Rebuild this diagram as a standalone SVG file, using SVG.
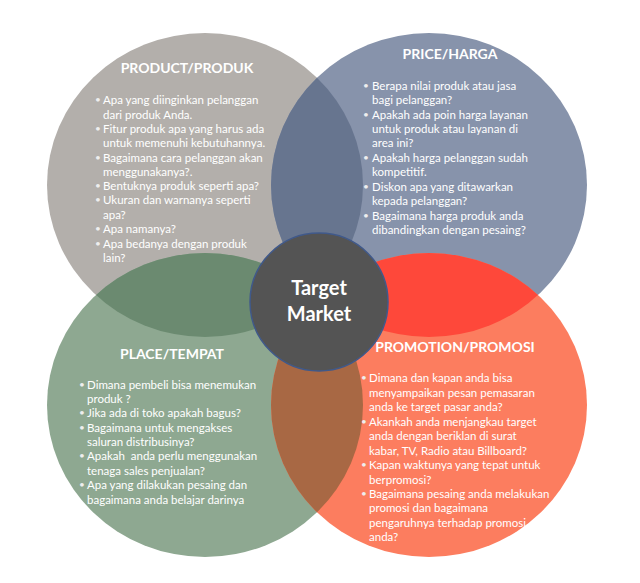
<svg xmlns="http://www.w3.org/2000/svg" width="640" height="583" viewBox="0 0 640 583">
<style>
.t{font-family:Lato,"Open Sans","Liberation Sans",sans-serif;font-size:11.5px;fill:#ffffff}
.b{font-family:Lato,"Open Sans","Liberation Sans",sans-serif;font-size:10px;fill:#eeeeee}
.h{font-family:Lato,"Open Sans","Liberation Sans",sans-serif;font-size:14px;font-weight:bold;fill:#ffffff;text-anchor:middle}
.c{font-family:Lato,"Open Sans","Liberation Sans",sans-serif;font-size:20px;font-weight:bold;fill:#ffffff;text-anchor:middle}
</style>
<defs>
<clipPath id="cpProduct"><ellipse cx="205" cy="185" rx="158" ry="152"/></clipPath>
<clipPath id="cpPromotion"><ellipse cx="429" cy="405" rx="158" ry="152"/></clipPath>
</defs>
<rect width="640" height="583" fill="#ffffff"/>
<g id="circles">
<ellipse id="product-circle" cx="205" cy="185" rx="158" ry="152" fill="#b3afab"/>
<ellipse id="price-circle" cx="429" cy="185" rx="158" ry="152" fill="#8793ab"/>
<ellipse id="place-circle" cx="205" cy="405" rx="158" ry="152" fill="#8ea891"/>
<ellipse id="promotion-circle" cx="429" cy="405" rx="158" ry="152" fill="#fc7d5f"/>
</g>
<g id="overlaps">
<ellipse cx="429" cy="185" rx="158" ry="152" fill="#67758f" clip-path="url(#cpProduct)"/>
<ellipse cx="205" cy="405" rx="158" ry="152" fill="#6b8a70" clip-path="url(#cpProduct)"/>
<ellipse cx="429" cy="185" rx="158" ry="152" fill="#fe483a" clip-path="url(#cpPromotion)"/>
<ellipse cx="205" cy="405" rx="158" ry="152" fill="#a86844" clip-path="url(#cpPromotion)"/>
</g>
<g id="connectors"/>
<g id="product">
<text class="h" x="187" y="73">PRODUCT/PRODUK</text>
<g class="b">
<text x="95" y="103">•</text><text x="95" y="132">•</text><text x="95" y="161">•</text><text x="95" y="189">•</text><text x="95" y="203">•</text><text x="95" y="232">•</text><text x="95" y="247">•</text>
</g>
<g class="t">
<text x="103" y="104">Apa yang diinginkan pelanggan</text>
<text x="103" y="119">dari produk Anda.</text>
<text x="103" y="133">Fitur produk apa yang harus ada</text>
<text x="103" y="147">untuk memenuhi kebutuhannya.</text>
<text x="103" y="162">Bagaimana cara pelanggan akan</text>
<text x="103" y="176">menggunakanya?.</text>
<text x="103" y="190">Bentuknya produk seperti apa?</text>
<text x="103" y="204">Ukuran dan warnanya seperti</text>
<text x="103" y="219">apa?</text>
<text x="103" y="233">Apa namanya?</text>
<text x="103" y="248">Apa bedanya dengan produk</text>
<text x="103" y="262">lain?</text>
</g>
</g>
<g id="price">
<text class="h" x="450" y="59">PRICE/HARGA</text>
<g class="b">
<text x="363" y="89">•</text><text x="363" y="118">•</text><text x="363" y="161">•</text><text x="363" y="190">•</text><text x="363" y="219">•</text>
</g>
<g class="t">
<text x="372" y="90">Berapa nilai produk atau jasa</text>
<text x="372" y="104">bagi pelanggan?</text>
<text x="372" y="119">Apakah ada poin harga layanan</text>
<text x="372" y="133">untuk produk atau layanan di</text>
<text x="372" y="147">area ini?</text>
<text x="372" y="162">Apakah harga pelanggan sudah</text>
<text x="372" y="176">kompetitif.</text>
<text x="372" y="191">Diskon apa yang ditawarkan</text>
<text x="372" y="205">kepada pelanggan?</text>
<text x="372" y="220">Bagaimana harga produk anda</text>
<text x="372" y="234">dibandingkan dengan pesaing?</text>
</g>
</g>
<g id="place">
<text class="h" x="172" y="359">PLACE/TEMPAT</text>
<g class="b">
<text x="79" y="388">•</text><text x="79" y="416">•</text><text x="79" y="431">•</text><text x="79" y="459">•</text><text x="79" y="488">•</text>
</g>
<g class="t">
<text x="87" y="389">Dimana pembeli bisa menemukan</text>
<text x="87" y="403">produk ?</text>
<text x="87" y="417">Jika ada di toko apakah bagus?</text>
<text x="87" y="432">Bagaimana untuk mengakses</text>
<text x="87" y="446">saluran distribusinya?</text>
<text x="87" y="460" xml:space="preserve">Apakah  anda perlu menggunakan</text>
<text x="87" y="475">tenaga sales penjualan?</text>
<text x="87" y="489">Apa yang dilakukan pesaing dan</text>
<text x="87" y="504">bagaimana anda belajar darinya</text>
</g>
</g>
<g id="promotion">
<text class="h" x="455" y="352">PROMOTION/PROMOSI</text>
<g class="b">
<text x="361" y="381">•</text><text x="361" y="425">•</text><text x="361" y="468">•</text><text x="361" y="497">•</text>
</g>
<g class="t">
<text x="369" y="382">Dimana dan kapan anda bisa</text>
<text x="369" y="397">menyampaikan pesan pemasaran</text>
<text x="369" y="411">anda ke target pasar anda?</text>
<text x="369" y="426">Akankah anda menjangkau target</text>
<text x="369" y="440">anda dengan beriklan di surat</text>
<text x="369" y="455">kabar, TV, Radio atau Billboard?</text>
<text x="369" y="469">Kapan waktunya yang tepat untuk</text>
<text x="369" y="484">berpromosi?</text>
<text x="369" y="498">Bagaimana pesaing anda melakukan</text>
<text x="369" y="512">promosi dan bagaimana</text>
<text x="369" y="527">pengaruhnya terhadap promosi</text>
<text x="369" y="541">anda?</text>
</g>
</g>
<g id="target-market">
<circle cx="319" cy="302" r="69" fill="#545454" stroke="#40598a" stroke-width="1.5"/>
<text class="c" x="319" y="295">Target</text>
<text class="c" x="319" y="321">Market</text>
</g>
</svg>
